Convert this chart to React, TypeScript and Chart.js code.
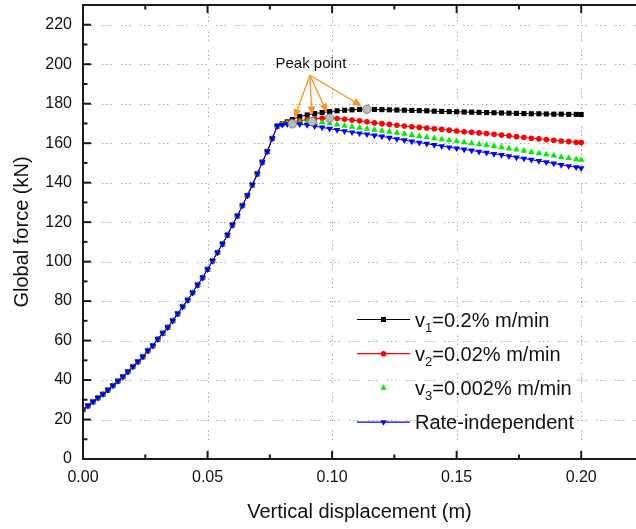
import React, { useEffect, useRef } from "react";
import { Chart, registerables } from "chart.js";

Chart.register(...registerables);

// ---------- data ----------
// shared loading branch (all four curves coincide here)
const riseD = [0, 0.002, 0.004, 0.006, 0.008, 0.010, 0.012, 0.014, 0.016, 0.018, 0.020, 0.022, 0.024, 0.026, 0.028, 0.030, 0.032, 0.034, 0.036, 0.038, 0.040, 0.042, 0.044, 0.046, 0.048, 0.050, 0.052, 0.054, 0.056, 0.058, 0.060, 0.062, 0.064, 0.066, 0.068, 0.070, 0.072, 0.074, 0.076, 0.078];
const riseF = [25.0, 27.0, 29.0, 31.0, 32.8, 35.0, 37.2, 39.5, 41.7, 44.2, 46.8, 49.3, 51.8, 54.9, 57.4, 60.7, 63.7, 66.7, 70.1, 73.6, 77.2, 80.5, 84.3, 88.2, 91.9, 96.1, 100.4, 104.6, 109.0, 113.5, 118.6, 123.2, 128.4, 133.5, 138.9, 144.5, 150.4, 155.8, 162.4, 168.7];

// post-yield branch displacements (shared)
const postD = [0.080, 0.082, 0.084, 0.087, 0.090, 0.093, 0.096, 0.099, 0.102, 0.105, 0.108, 0.111, 0.114, 0.117, 0.120, 0.123, 0.126, 0.129, 0.132, 0.135, 0.138, 0.141, 0.144, 0.147, 0.150, 0.153, 0.156, 0.159, 0.162, 0.165, 0.168, 0.171, 0.174, 0.177, 0.180, 0.183, 0.186, 0.189, 0.192, 0.195, 0.198, 0.200];
const v1F = [169.8, 170.8, 172.0, 173.5, 174.3, 175.0, 175.5, 176.0, 176.4, 176.7, 176.9, 177.1, 177.2, 177.1, 177.0, 176.9, 176.8, 176.7, 176.6, 176.5, 176.4, 176.2, 176.1, 176.0, 175.9, 175.8, 175.7, 175.6, 175.5, 175.4, 175.3, 175.2, 175.1, 175.0, 174.9, 174.9, 174.8, 174.7, 174.7, 174.6, 174.6, 174.5];
const v2F = [169.8, 170.3, 170.8, 171.4, 171.9, 172.3, 172.6, 172.7, 172.5, 172.1, 171.7, 171.3, 170.8, 170.3, 169.9, 169.5, 169.1, 168.7, 168.3, 168.0, 167.7, 167.3, 167.0, 166.6, 166.2, 165.8, 165.5, 165.2, 164.9, 164.5, 164.1, 163.7, 163.3, 162.9, 162.5, 162.2, 161.8, 161.4, 161.1, 160.8, 160.5, 160.3];
const v3F = [169.6, 170.0, 170.4, 170.7, 171.0, 170.9, 170.5, 170.0, 169.4, 168.8, 168.3, 167.8, 167.3, 166.8, 166.3, 165.8, 165.2, 164.7, 164.1, 163.6, 163.0, 162.5, 161.9, 161.4, 160.9, 160.4, 159.9, 159.4, 159.0, 158.5, 157.9, 157.3, 156.7, 156.1, 155.5, 154.9, 154.3, 153.7, 153.0, 152.4, 151.8, 151.5];
const riF = [169.3, 169.6, 169.8, 169.6, 169.2, 168.6, 168.0, 167.3, 166.7, 166.1, 165.5, 165.0, 164.5, 163.9, 163.4, 162.8, 162.1, 161.5, 160.9, 160.3, 159.7, 159.1, 158.5, 157.9, 157.4, 156.8, 156.3, 155.7, 155.2, 154.6, 154.0, 153.4, 152.8, 152.2, 151.6, 151.0, 150.4, 149.7, 149.0, 148.4, 147.8, 147.3];

// peak points (v1, v2, v3, rate-independent)
const peakD = [0.114, 0.099, 0.092, 0.084];
const peakF = [177.2, 172.7, 171.0, 169.8];

const seriesLabels = ["v₁=0.2% m/min", "v₂=0.02% m/min", "v₃=0.002% m/min", "Rate-independent"];
const noteText = "Peak point";
const xTicks = [0, 0.05, 0.1, 0.15, 0.2];
const xMinor = [0.025, 0.075, 0.125, 0.175];
const yTicks = [0, 20, 40, 60, 80, 100, 120, 140, 160, 180, 200, 220];
const yMinor = [10, 30, 50, 70, 90, 110, 130, 150, 170, 190, 210];

// ---------- style ----------
const FONT = "'Liberation Sans', Arial, Helvetica, sans-serif";
const NOTE_POS = { x: 0.0915, y: 200 }; // text anchor in data units
const ORANGE = "#F7931E";

const pts = (d: number[], f: number[]) => d.map((x, i) => ({ x, y: f[i] }));

function drawMarker(ctx: CanvasRenderingContext2D, style: string, rot: number, x: number, y: number, color: string) {
  ctx.save();
  ctx.fillStyle = color;
  ctx.beginPath();
  if (style === "rect") {
    ctx.rect(x - 2.5, y - 2.5, 5, 5);
  } else if (style === "circle") {
    ctx.arc(x, y, 2.8, 0, Math.PI * 2);
  } else {
    const r = 3.6;
    const s = rot === 180 ? -1 : 1;
    ctx.moveTo(x, y - s * r);
    ctx.lineTo(x - r * 0.866, y + s * r / 2);
    ctx.lineTo(x + r * 0.866, y + s * r / 2);
    ctx.closePath();
  }
  ctx.fill();
  ctx.restore();
}

const SUB: Record<string, string> = { "₀": "0", "₁": "1", "₂": "2", "₃": "3", "₄": "4", "₅": "5", "₆": "6", "₇": "7", "₈": "8", "₉": "9" };

function drawRichLabel(ctx: CanvasRenderingContext2D, text: string, x: number, y: number) {
  let cx = x;
  ctx.textBaseline = "middle";
  ctx.textAlign = "left";
  ctx.fillStyle = "#111";
  for (const ch of Array.from(text)) {
    if (SUB[ch]) {
      ctx.font = `13px ${FONT}`;
      ctx.fillText(SUB[ch], cx, y + 7);
      cx += ctx.measureText(SUB[ch]).width;
    } else {
      ctx.font = `20px ${FONT}`;
      ctx.fillText(ch, cx, y);
      cx += ctx.measureText(ch).width;
    }
  }
}

const framePlugin = {
  id: "frame",
  beforeDatasetsDraw(chart: any) {
    const ctx = chart.ctx as CanvasRenderingContext2D;
    const { left, right, top, bottom } = chart.chartArea;
    const xs = chart.scales.x, ys = chart.scales.y;
    ctx.save();
    ctx.strokeStyle = "#a8a8a8";
    ctx.lineWidth = 1;
    ctx.setLineDash([1.5, 2.5, 1.5, 2.5, 1.5, 9.5]);
    yTicks.forEach((v) => {
      if (v === 0) return;
      const p = Math.round(ys.getPixelForValue(v)) + 0.5;
      ctx.beginPath(); ctx.moveTo(left, p); ctx.lineTo(right, p); ctx.stroke();
    });
    xTicks.forEach((v) => {
      if (v === 0) return;
      const p = Math.round(xs.getPixelForValue(v)) + 0.5;
      ctx.beginPath(); ctx.moveTo(p, bottom); ctx.lineTo(p, top); ctx.stroke();
    });
    ctx.restore();
  },
  afterDraw(chart: any) {
    const ctx = chart.ctx as CanvasRenderingContext2D;
    const { left, right, top, bottom } = chart.chartArea;
    const xs = chart.scales.x, ys = chart.scales.y;
    ctx.save();
    ctx.strokeStyle = "#1a1a1a";
    ctx.lineWidth = 2;
    ctx.beginPath();
    ctx.moveTo(right + 2, top); ctx.lineTo(left, top); ctx.lineTo(left, bottom); ctx.lineTo(right + 2, bottom);
    ctx.stroke();
    // inward ticks
    const tick = (x1: number, y1: number, x2: number, y2: number) => { ctx.beginPath(); ctx.moveTo(x1, y1); ctx.lineTo(x2, y2); ctx.stroke(); };
    yTicks.forEach((v) => { const p = ys.getPixelForValue(v); tick(left, p, left + 8, p); });
    yMinor.forEach((v) => { const p = ys.getPixelForValue(v); tick(left, p, left + 4.5, p); });
    xTicks.forEach((v) => { const p = xs.getPixelForValue(v); tick(p, bottom, p, bottom - 8); tick(p, top, p, top + 8); });
    xMinor.forEach((v) => { const p = xs.getPixelForValue(v); tick(p, bottom, p, bottom - 4.5); tick(p, top, p, top + 4.5); });
    ctx.restore();
  },
};

const legendPlugin = {
  id: "customLegend",
  afterDraw(chart: any) {
    const ctx = chart.ctx as CanvasRenderingContext2D;
    const { left, top } = chart.chartArea;
    const x0 = left + 274, x1 = left + 327, tx = left + 332;
    const y0 = top + 314.5, dy = 34.2;
    ctx.save();
    chart.data.datasets.slice(0, 4).forEach((ds: any, i: number) => {
      const y = y0 + i * dy;
      if (ds.showLine !== false) {
        ctx.strokeStyle = ds.borderColor;
        ctx.lineWidth = 1.2;
        ctx.beginPath(); ctx.moveTo(x0, y); ctx.lineTo(x1, y); ctx.stroke();
      }
      drawMarker(ctx, ds.pointStyle, ds.pointRotation || 0, (x0 + x1) / 2, y, ds.backgroundColor);
      drawRichLabel(ctx, ds.label, tx, y + 1.5);
    });
    ctx.restore();
  },
};

const notePlugin = {
  id: "peakNote",
  afterDraw(chart: any) {
    const ctx = chart.ctx as CanvasRenderingContext2D;
    const xs = chart.scales.x, ys = chart.scales.y;
    const tx = xs.getPixelForValue(NOTE_POS.x), ty = ys.getPixelForValue(NOTE_POS.y);
    ctx.save();
    ctx.font = `15px ${FONT}`;
    ctx.fillStyle = "#111";
    ctx.textAlign = "center";
    ctx.textBaseline = "middle";
    ctx.fillText(noteText, tx, ty);
    const sx = tx - 1, sy = ty + 11;
    ctx.strokeStyle = ORANGE;
    ctx.fillStyle = ORANGE;
    ctx.lineWidth = 1.3;
    peakD.forEach((d, i) => {
      const px = xs.getPixelForValue(d), py = ys.getPixelForValue(peakF[i]);
      const dx = px - sx, dyv = py - sy;
      const len = Math.hypot(dx, dyv);
      const ux = dx / len, uy = dyv / len;
      const ex = px - ux * 6, ey = py - uy * 6;
      const hl = 9, hw = 3.8;
      const bx = ex - ux * hl, by = ey - uy * hl;
      ctx.beginPath(); ctx.moveTo(sx, sy); ctx.lineTo(bx, by); ctx.stroke();
      ctx.beginPath();
      ctx.moveTo(ex, ey);
      ctx.lineTo(bx - uy * hw, by + ux * hw);
      ctx.lineTo(bx + uy * hw, by - ux * hw);
      ctx.closePath();
      ctx.fill();
    });
    ctx.restore();
  },
};

export default function App() {
  const ref = useRef<HTMLCanvasElement | null>(null);
  useEffect(() => {
    if (!ref.current) return;
    const common = { borderWidth: 1, pointBorderWidth: 0, showLine: true, tension: 0 };
    const chart = new Chart(ref.current, {
      type: "scatter",
      data: {
        datasets: [
          { ...common, label: seriesLabels[0], data: pts(riseD.concat(postD), riseF.concat(v1F)), borderColor: "#000000", backgroundColor: "#000000", pointStyle: "rect", pointRadius: 3.6, order: 4 },
          { ...common, label: seriesLabels[1], data: pts(riseD.concat(postD), riseF.concat(v2F)), borderColor: "#ff0000", backgroundColor: "#ff0000", pointStyle: "circle", pointRadius: 2.8, order: 3 },
          { ...common, label: seriesLabels[2], data: pts(riseD.concat(postD), riseF.concat(v3F)), borderColor: "#00ee00", backgroundColor: "#00ee00", pointStyle: "triangle", pointRadius: 3.8, showLine: false, order: 2 },
          { ...common, label: seriesLabels[3], data: pts(riseD.concat(postD), riseF.concat(riF)), borderColor: "#0000ff", backgroundColor: "#0000ff", pointStyle: "triangle", pointRotation: 180, pointRadius: 3.8, order: 1 },
          { label: "peaks", data: pts(peakD, peakF), showLine: false, pointStyle: "circle", pointRadius: 4.2, backgroundColor: "#bdbdbd", borderColor: "#7f7f7f", pointBorderWidth: 1, order: 0 },
        ] as any,
      },
      options: {
        responsive: false,
        animation: false,
        events: [],
        layout: { autoPadding: false, padding: { top: 5, right: 0, left: 0, bottom: 0 } },
        plugins: { legend: { display: false }, tooltip: { enabled: false } },
        scales: {
          x: {
            type: "linear",
            min: 0,
            max: 0.222,
            grid: { display: false, drawTicks: false },
            border: { display: false },
            afterBuildTicks: (s: any) => { s.ticks = xTicks.map((v) => ({ value: v })); },
            afterFit: (s: any) => { s.height = 70; s.paddingLeft = 0; s.paddingRight = 0; },
            ticks: { padding: 9, autoSkip: false, maxRotation: 0, color: "#111", font: { family: FONT, size: 16 }, callback: (v: any) => Number(v).toFixed(2) },
            title: { display: true, text: "Vertical displacement (m)", color: "#111", font: { family: FONT, size: 20 }, padding: { top: 0, bottom: 5 } },
          },
          y: {
            type: "linear",
            min: 0,
            max: 230,
            grid: { display: false, drawTicks: false },
            border: { display: false },
            afterBuildTicks: (s: any) => { s.ticks = yTicks.map((v) => ({ value: v })); },
            afterFit: (s: any) => { s.width = 83; s.paddingTop = 0; s.paddingBottom = 0; },
            ticks: { padding: 11, autoSkip: false, color: "#111", font: { family: FONT, size: 16 } },
            title: { display: true, text: "Global force (kN)", color: "#111", font: { family: FONT, size: 20 }, padding: { top: 10, bottom: 0 } },
          },
        },
      } as any,
      plugins: [framePlugin, legendPlugin, notePlugin],
    });
    return () => chart.destroy();
  }, []);
  return (
    <div style={{ position: "absolute", left: 0, top: 0, width: 636, height: 529, overflow: "hidden", background: "#fff" }}>
      <canvas ref={ref} width={636} height={529} style={{ display: "block" }} />
    </div>
  );
}
